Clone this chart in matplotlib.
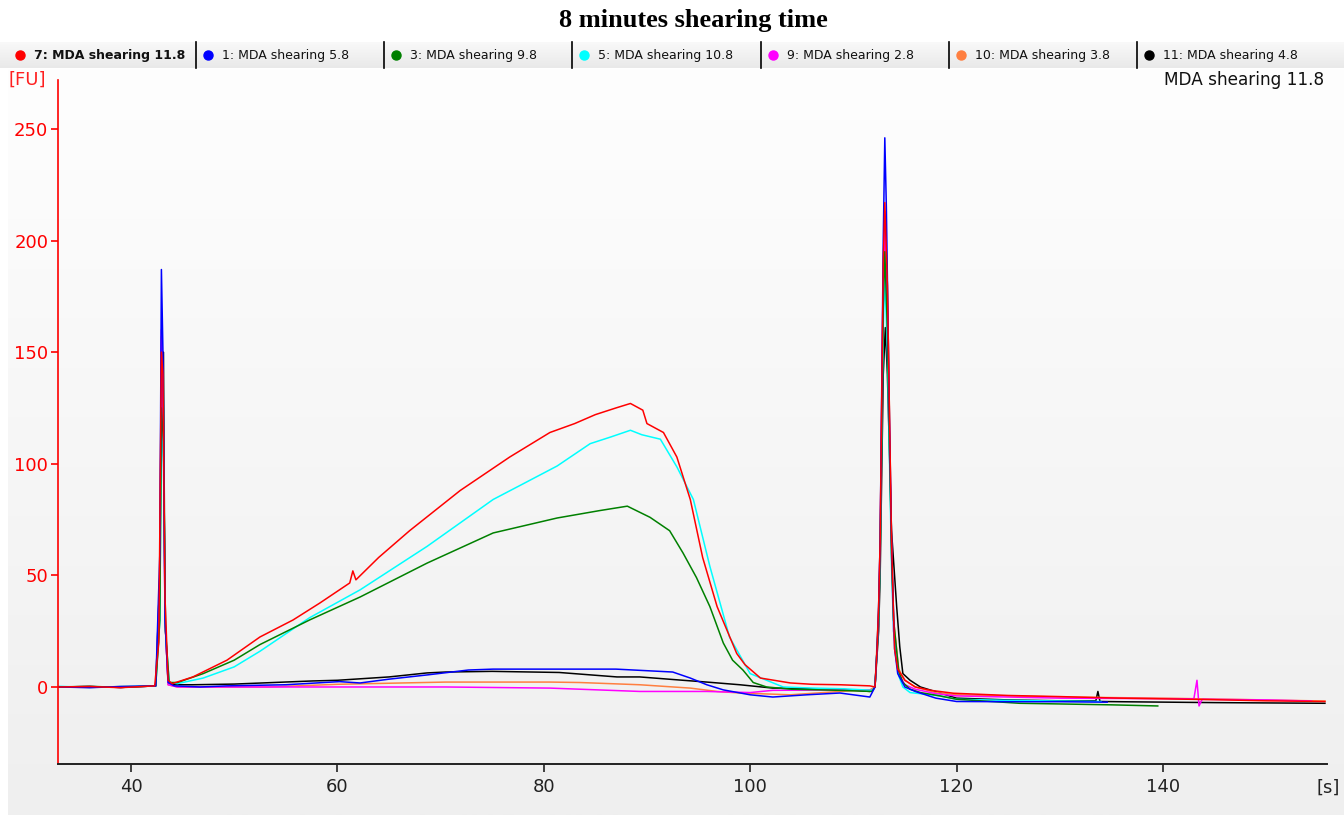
import numpy as np
import matplotlib
matplotlib.use("Agg")
import matplotlib.pyplot as plt
from matplotlib.colors import LinearSegmentedColormap

# sample readings, x in seconds, y in FU
s7_x = [33, 36, 39, 42.3, 42.7, 42.95, 43.1, 43.3, 43.6, 44.0, 46, 49.3, 52.5, 55.7, 58.3, 61.2, 61.5, 61.8,
        64, 67, 71.9, 76.7, 80.6, 83, 85, 87, 88.4, 89.6, 90, 91.6, 92.9, 94.2, 95.4, 96.8, 98.7, 99.5, 101,
        103.9, 106, 108.7, 111.6, 112.1, 112.3, 112.45, 112.6, 112.9, 113.05, 113.3, 113.7, 113.85, 114.0,
        114.3, 115, 116, 117.5, 119.7, 125, 130, 135.8, 140, 145, 150, 155.7]
s7_y = [0, 0.2, -0.3, 0.5, 20, 150, 140, 40, 3, 1.5, 4.5, 12, 22.4, 30, 37.6, 46.6, 52, 48,
        58, 70, 88, 103, 114, 118, 122, 125, 127, 124, 118, 114, 103, 84, 58, 36, 15, 10, 4,
        1.8, 1.2, 1, 0.5, 0, 17, 36, 66, 190, 217, 180, 66, 40, 17,
        8, 3, 0, -1.5, -2.8, -3.8, -4.3, -5, -5.3, -5.7, -6.2, -6.5]

s1_x = [33, 36, 39, 42.4, 42.8, 42.95, 43.1, 43.3, 43.6, 44.2, 46.7, 49.3, 55, 60.2, 62.2, 65, 68.7, 72.7,
        75.1, 81.6, 87, 92.5, 94.2, 95.8, 97.4, 100, 102.2, 105.5, 108.7, 111.6, 112.1, 112.3, 112.45,
        112.6, 112.9, 113.05, 113.2, 113.5, 113.7, 113.85, 114.0, 114.3, 115, 116, 118, 120, 125, 130, 134.6]
s1_y = [0, -0.3, 0.2, 0.5, 60, 187, 150, 30, 2, 0.5, 0, 0.5, 1, 2.4, 1.8, 3.5, 5.4, 7.6,
        8, 8, 8, 6.7, 4, 1, -1.3, -3.5, -4.5, -3.5, -2.7, -4.5, 0, 17, 36,
        66, 200, 246, 215, 120, 66, 40, 17, 6, 0, -2, -5, -6.5, -6.6, -6.6, -6.8]

s3_x = [33, 36, 39, 42.4, 42.8, 42.95, 43.15, 43.35, 43.7, 44.5, 47, 50, 52.5, 57.3, 62.2, 68.7, 75.1, 81.3,
        85.4, 88.1, 90.3, 92.2, 93.5, 94.8, 96.1, 97.4, 98.3, 99.3, 100.3, 101.6, 104, 108.7, 111.8, 112.1,
        112.45, 112.6, 112.9, 113.05, 113.3, 113.7, 113.9, 114.4, 114.8, 115.5, 116.5, 118.4, 120, 126.1,
        130, 135, 139.5]
s3_y = [0, 0.3, -0.2, 0.5, 30, 125, 110, 25, 2, 2, 6, 12, 19, 30, 40.3, 55.5, 69, 75.7,
        79, 81, 76, 70, 60, 49, 36, 19.7, 12, 7.6, 2, 0, -1, -1.5, -2, 0,
        30, 60, 170, 195, 160, 60, 30, 7, 2, -1, -2.5, -4, -5.5, -7.3,
        -7.6, -8, -8.5]

s5_x = [33, 36, 39, 42.4, 42.8, 42.95, 43.15, 43.35, 43.7, 44.5, 47, 50, 52.5, 57.3, 62.2, 68.7, 75.1, 78,
        81.3, 84.5, 86.5, 88.4, 89.5, 91.3, 92.9, 94.5, 96.1, 98, 100, 103.2, 106, 109, 111.8, 112.1,
        112.45, 112.6, 112.9, 113.05, 113.3, 113.7, 113.9, 114.4, 114.8, 115.5, 116.5, 118.4, 120, 125,
        130, 134]
s5_y = [0.3, -0.2, 0.2, 0.5, 30, 120, 100, 25, 2, 1.5, 4, 9, 16, 31, 43.5, 63, 84, 91,
        99, 109, 112, 115, 113, 111, 98.6, 84, 54, 22.4, 6, 0, -0.5, -0.8, -1.5, 0,
        30, 60, 160, 185, 150, 55, 25, 5, 0, -2.5, -3, -4, -5.5, -6,
        -6.3, -6.5]

s9_x = [33, 36, 39, 42.4, 42.8, 42.95, 43.1, 43.3, 43.6, 44.5, 50, 60, 70.5, 80.6, 89.3, 93.5, 95.8, 100,
        102.2, 108.7, 111.8, 112.1, 112.45, 112.6, 112.9, 113.05, 113.3, 113.7, 113.9, 114.4, 115, 116,
        118, 120, 130, 143.0, 143.3, 143.5, 143.8, 150, 154.4]
s9_y = [0, 0.2, -0.2, 0.5, 40, 160, 130, 30, 1, 0, 0, 0, 0, -0.5, -2, -2, -2, -2.5,
        -1.5, -1.3, -1.5, 0, 30, 65, 180, 205, 170, 60, 25, 6, 1, -1,
        -3, -4, -5, -5.3, 3, -8.5, -5.5, -5.8, -6.3]

s10_x = [33, 36, 39, 42.4, 42.8, 42.95, 43.1, 43.3, 43.6, 44.5, 53.3, 60, 70.5, 80.6, 83.5, 89.3, 94.2,
         96.8, 99, 103.9, 108.7, 111.6, 112.1, 112.45, 112.6, 112.9, 113.05, 113.3, 113.7, 113.9, 114.4,
         115, 116, 118, 120, 130, 140, 150, 155.7]
s10_y = [0, -0.2, 0.2, 0.5, 50, 157, 140, 30, 1, 0, 0, 1.2, 2.2, 2.2, 2, 1, -0.5,
         -2, -2.7, -3.5, -2, -1.3, 0, 35, 66, 190, 213, 180, 66, 30, 8,
         3, 0, -2.5, -3.5, -4.5, -5, -5.8, -6.3]

s11_x = [33, 36, 39, 42.4, 42.8, 42.95, 43.15, 43.3, 43.6, 44.2, 46, 50, 57.6, 60, 65, 68.7, 70.5, 75,
         81.5, 87.1, 89.3, 93.5, 95.8, 99, 102.2, 108.7, 111.6, 112.1, 112.45, 112.6, 112.9, 113.1, 113.3,
         113.7, 114.2, 114.5, 114.8, 115.5, 116.5, 118.4, 120, 125, 130, 133.5, 133.7, 133.9, 135.8, 145,
         155.7]
s11_y = [0, 0.2, -0.2, 0.5, 50, 140, 150, 30, 2, 1, 1, 1.3, 2.7, 3, 4.5, 6.3, 6.7, 7,
         6.5, 4.5, 4.5, 3, 2.2, 1, -0.5, -1, -2, 0, 25, 50, 140, 161, 140,
         70, 36, 18, 6, 3, 0, -2.7, -5, -5.8, -6.2, -6.2, -2, -6.5, -6.6, -7,
         -7.3]

labels = ["7: MDA shearing 11.8", "1: MDA shearing 5.8", "3: MDA shearing 9.8", "5: MDA shearing 10.8",
          "9: MDA shearing 2.8", "10: MDA shearing 3.8", "11: MDA shearing 4.8"]
colors = ["#ff0000", "#0000ff", "#008000", "#00ffff", "#ff00ff", "#ff7f40", "#000000"]
series = [(s7_x, s7_y), (s1_x, s1_y), (s3_x, s3_y), (s5_x, s5_y),
          (s9_x, s9_y), (s10_x, s10_y), (s11_x, s11_y)]

yticks = [0, 50, 100, 150, 200, 250]
xticks = [40, 60, 80, 100, 120, 140]

W, H = 1344, 815
fig = plt.figure(figsize=(W / 100, H / 100), dpi=100)
fig.patch.set_facecolor("white")

# background panel drawn in pixel coordinates
bg = fig.add_axes([0, 0, 1, 1], zorder=0)
bg.set_xlim(0, W)
bg.set_ylim(H, 0)
bg.axis("off")
grad = np.linspace(0, 1, 256).reshape(-1, 1)
panel_cmap = LinearSegmentedColormap.from_list("panel", ["#fefefe", "#efefef"])
bg.imshow(grad, cmap=panel_cmap, extent=(8, W, H, 69), aspect="auto", zorder=0)
bar_cmap = LinearSegmentedColormap.from_list("bar", ["#f9f9f9", "#e9e9e9"])
bg.imshow(grad, cmap=bar_cmap, extent=(0, W, 68, 42), aspect="auto", zorder=0)

# legend bar
item_x = [8, 196, 384, 572, 761, 949, 1137]
for i, (lab, col) in enumerate(zip(labels, colors)):
    x0 = item_x[i]
    if i > 0:
        bg.plot([x0, x0], [42, 68], color="black", lw=1.2, zorder=2)
    bg.plot(x0 + 12, 55, marker="o", ms=6.5, color=col, zorder=3)
    bg.text(x0 + 26, 55.5, lab, fontsize=9.0, family="DejaVu Sans",
            fontweight="bold" if i == 0 else "normal", va="center", ha="left",
            color="#111111", zorder=3)

fig.text(693 / W, 1 - 21 / H, "8 minutes shearing time", ha="center", va="center",
         fontsize=19, fontweight="bold", family="Liberation Serif")

bg.text(8, 80, "[FU]", color="#ff2020", fontsize=13, ha="left", va="center", family="DejaVu Sans")
bg.text(1324, 80, "MDA shearing 11.8", color="#111111", fontsize=12.2, ha="right", va="center",
        family="DejaVu Sans")
bg.text(1328, 788, "[s]", color="#222222", fontsize=13, ha="center", va="center", family="DejaVu Sans")

# plot area
ax = fig.add_axes([58 / W, 51 / H, 1269 / W, 684 / H], zorder=1)
ax.set_facecolor("none")
for (xs, ys), col in reversed(list(zip(series, colors))):
    ax.plot(xs, ys, color=col, lw=1.1)

ax.set_xlim(32.93, 155.9)
ax.set_ylim(-34.5, 271.9)
ax.set_xticks(xticks)
ax.set_yticks(yticks)
for s in ["top", "right"]:
    ax.spines[s].set_visible(False)
ax.spines["left"].set_color("#ff0000")
ax.spines["bottom"].set_color("#222222")
ax.spines["left"].set_linewidth(1.2)
ax.spines["bottom"].set_linewidth(1.4)
ax.tick_params(axis="y", colors="#ff0000", labelsize=13, length=5, width=1.2, pad=2)
ax.tick_params(axis="x", colors="#222222", labelsize=13, length=6, width=1.2, pad=4)

fig.savefig("out.png", dpi=100)
